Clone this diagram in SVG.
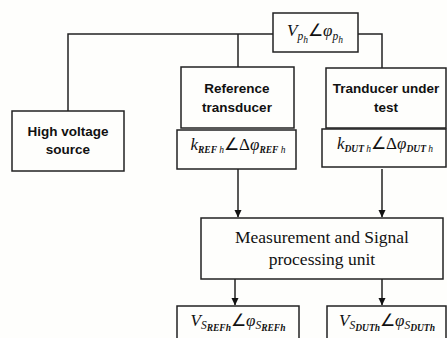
<svg xmlns="http://www.w3.org/2000/svg" width="447" height="338" viewBox="0 0 447 338">
  <style>
    .box { fill: #fefefc; stroke: #222; stroke-width: 1.5; }
    .wire { fill: none; stroke: #222; stroke-width: 1.5; }
    .lbl { font-family: "Liberation Sans", Arial, sans-serif; font-weight: bold; font-size: 13.5px; fill: #111; text-anchor: middle; }
    .ser { font-family: "Liberation Serif", "Times New Roman", serif; font-size: 17.5px; fill: #111; text-anchor: middle; }
    .m { font-family: "Liberation Serif", "Times New Roman", serif; font-style: italic; font-size: 17px; fill: #111; text-anchor: middle; }
    .s1 { font-size: 11.5px; }
    .s2 { font-size: 9.5px; font-weight: bold; }
    .s2n { font-size: 9.5px; }
    .ang { font-style: normal; font-weight: normal; }
  </style>
  <defs>
    <marker id="arrow" markerWidth="8" markerHeight="8" refX="7" refY="4" orient="auto" markerUnits="userSpaceOnUse">
      <path d="M0,0.5 L7.5,4 L0,7.5 Z" fill="#111"/>
    </marker>
  </defs>
  <rect width="447" height="338" fill="#fefefc"/>

  <g id="connectors">
    <path class="wire" d="M273,34 H68 V111"/>
    <path class="wire" d="M238,34 V67"/>
    <path class="wire" d="M358,34 H382 V68"/>
    <path class="wire" d="M238,169 V217" marker-end="url(#arrow)"/>
    <path class="wire" d="M382,169 V217" marker-end="url(#arrow)"/>
    <path class="wire" d="M235,279 V305" marker-end="url(#arrow)"/>
    <path class="wire" d="M382,279 V305" marker-end="url(#arrow)"/>
  </g>

  <g id="phasor-primary">
    <rect class="box" x="273" y="13" width="85" height="39"/>
    <text class="m" x="315" y="36">V<tspan class="s1" dy="4">p</tspan><tspan class="s2n" dy="3">h</tspan><tspan class="ang" dy="-7">∠</tspan>φ<tspan class="s1" dy="4">p</tspan><tspan class="s2n" dy="3">h</tspan></text>
  </g>

  <g id="hv-source">
    <rect class="box" x="12" y="111" width="112" height="60"/>
    <text class="lbl" x="68" y="136">High voltage</text>
    <text class="lbl" x="68" y="154">source</text>
  </g>

  <g id="ref-transducer">
    <rect class="box" x="181" y="67" width="113" height="61"/>
    <text class="lbl" x="237" y="93">Reference</text>
    <text class="lbl" x="237" y="112">transducer</text>
  </g>

  <g id="dut-transducer">
    <rect class="box" x="326" y="68" width="120" height="60"/>
    <text class="lbl" x="386" y="93">Tranducer under</text>
    <text class="lbl" x="386" y="112">test</text>
  </g>

  <g id="ref-ratio">
    <rect class="box" x="177" y="130" width="119" height="39"/>
    <text class="m" x="238" y="150">k<tspan class="s2" dy="3">REF</tspan><tspan class="s2n" dy="0"> h</tspan><tspan class="ang" dy="-3">∠Δ</tspan>φ<tspan class="s2" dy="3">REF</tspan><tspan class="s2n" dy="0"> h</tspan></text>
  </g>

  <g id="dut-ratio">
    <rect class="box" x="322" y="129" width="124" height="38"/>
    <text class="m" x="385" y="149">k<tspan class="s2" dy="3">DUT</tspan><tspan class="s2n" dy="0"> h</tspan><tspan class="ang" dy="-3">∠Δ</tspan>φ<tspan class="s2" dy="3">DUT</tspan><tspan class="s2n" dy="0"> h</tspan></text>
  </g>

  <g id="processing-unit">
    <rect class="box" x="201" y="218" width="242" height="61"/>
    <text class="ser" x="322" y="243">Measurement and Signal</text>
    <text class="ser" x="322" y="265">processing unit</text>
  </g>

  <g id="ref-output">
    <rect class="box" x="177" y="306" width="122" height="40"/>
    <text class="m" x="238" y="326">V<tspan class="s1" dy="3">S</tspan><tspan class="s2" dy="2">REFh</tspan><tspan class="ang" dy="-5">∠</tspan>φ<tspan class="s1" dy="3">S</tspan><tspan class="s2" dy="2">REFh</tspan></text>
  </g>

  <g id="dut-output">
    <rect class="box" x="327" y="306" width="119" height="40"/>
    <text class="m" x="387" y="326">V<tspan class="s1" dy="3">S</tspan><tspan class="s2" dy="2">DUTh</tspan><tspan class="ang" dy="-5">∠</tspan>φ<tspan class="s1" dy="3">S</tspan><tspan class="s2" dy="2">DUTh</tspan></text>
  </g>
</svg>
